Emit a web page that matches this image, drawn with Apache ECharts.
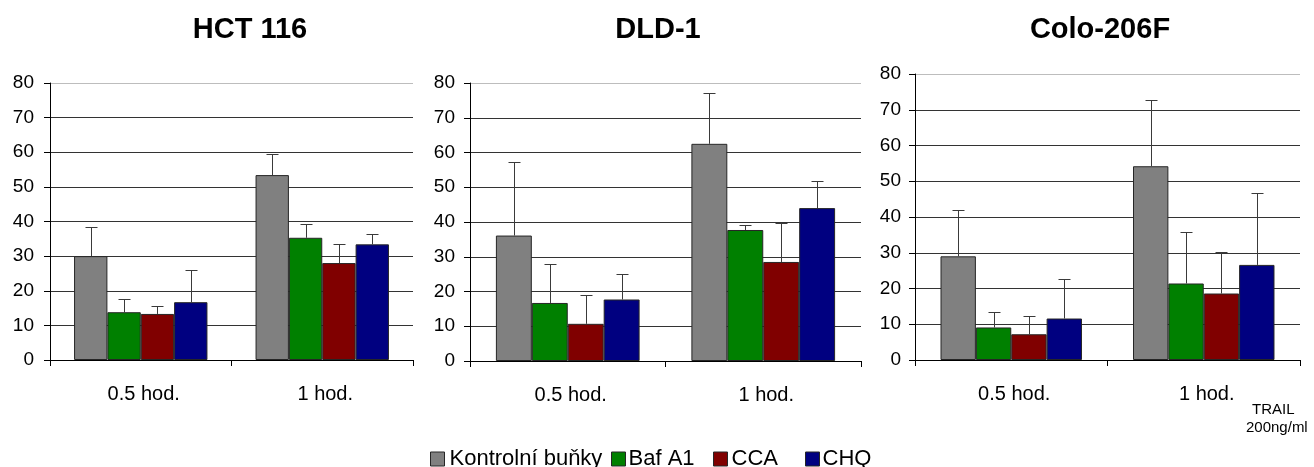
<!DOCTYPE html>
<html>
<head>
<meta charset="utf-8">
<script src="https://cdn.jsdelivr.net/npm/echarts@6/dist/echarts.min.js"></script>
<style>
  html, body { margin: 0; padding: 0; background: #fff; }
  #chart { width: 1314px; height: 467px; }
</style>
</head>
<body>
<div id="chart"></div>
<script>
// Time points and treatment groups
const categories = ['0.5 hod.', '1 hod.'];
const cellLines = ['HCT 116', 'DLD-1', 'Colo-206F'];
const groupNames = ['Kontrolní buňky', 'Baf A1', 'CCA', 'CHQ'];
const yTicks = [0, 10, 20, 30, 40, 50, 60, 70, 80];

// HCT 116: means and upper error (SD)
const hctKontrol = [30.0, 53.4];
const hctKontrolErr = [8.3, 6.0];
const hctBaf = [13.8, 35.3];
const hctBafErr = [3.9, 4.0];
const hctCca = [13.3, 28.0];
const hctCcaErr = [2.4, 5.4];
const hctChq = [16.7, 33.4];
const hctChqErr = [9.4, 2.9];

// DLD-1
const dldKontrol = [36.1, 62.5];
const dldKontrolErr = [21.1, 14.7];
const dldBaf = [16.7, 37.7];
const dldBafErr = [11.3, 1.5];
const dldCca = [10.7, 28.5];
const dldCcaErr = [8.4, 11.1];
const dldChq = [17.7, 44.0];
const dldChqErr = [7.3, 7.8];

// Colo-206F
const coloKontrol = [29.0, 54.2];
const coloKontrolErr = [12.9, 18.6];
const coloBaf = [9.1, 21.4];
const coloBafErr = [4.2, 14.3];
const coloCca = [7.2, 18.6];
const coloCcaErr = [5.2, 11.5];
const coloChq = [11.6, 26.6];
const coloChqErr = [11.0, 20.1];

const panelData = [
  { means: [hctKontrol, hctBaf, hctCca, hctChq], errs: [hctKontrolErr, hctBafErr, hctCcaErr, hctChqErr] },
  { means: [dldKontrol, dldBaf, dldCca, dldChq], errs: [dldKontrolErr, dldBafErr, dldCcaErr, dldChqErr] },
  { means: [coloKontrol, coloBaf, coloCca, coloChq], errs: [coloKontrolErr, coloBafErr, coloCcaErr, coloChqErr] }
];

const colors = ['#808080', '#008000', '#800000', '#000080'];
const FONT = '"Liberation Sans", Arial, sans-serif';
const GAP = 0.265;

const grids = [
  { left: 50, width: 363, top: 83, height: 277 },
  { left: 470, width: 391, top: 83, height: 278 },
  { left: 915, width: 385, top: 74, height: 286 }
];
const titleCenters = [250, 658, 1100];
const yLabelMargins = [16, 15, 14];

const xAxes = [], yAxes = [], series = [], titles = [];

grids.forEach((g, p) => {
  titles.push({
    text: cellLines[p],
    left: titleCenters[p],
    top: 15,
    padding: 0,
    textAlign: 'center',
    textStyle: { fontFamily: FONT, fontSize: 29, fontWeight: 'bold', color: '#000' }
  });
  xAxes.push({
    type: 'category',
    gridIndex: p,
    data: categories,
    boundaryGap: true,
    axisLine: { lineStyle: { color: '#000', width: 1 } },
    axisTick: { show: true, length: 6, lineStyle: { color: '#000' } },
    axisLabel: { color: '#000', fontFamily: FONT, fontSize: 20, margin: 24, padding: [0, 0, 0, 6] },
    splitLine: { show: false }
  });
  yAxes.push({
    type: 'value',
    gridIndex: p,
    min: yTicks[0],
    max: yTicks[yTicks.length - 1],
    interval: 10,
    axisLine: { show: true, lineStyle: { color: '#000', width: 1 } },
    axisTick: { show: true, length: 6, lineStyle: { color: '#000' } },
    axisLabel: { color: '#000', fontFamily: FONT, fontSize: 19, margin: yLabelMargins[p] },
    splitLine: {
      show: true,
      lineStyle: { color: ['#333', '#333', '#333', '#333', '#333', '#333', '#333', '#333', '#bdbdbd'], width: 1 }
    }
  });

  groupNames.forEach((name, s) => {
    series.push({
      name: name,
      type: 'bar',
      xAxisIndex: p,
      yAxisIndex: p,
      data: panelData[p].means[s],
      barGap: '0%',
      barCategoryGap: (GAP * 100) + '%',
      itemStyle: { color: colors[s], borderColor: '#262626', borderWidth: 1 },
      emphasis: { disabled: true },
      z: 2
    });
  });

  // upper error whiskers drawn on top of each bar
  groupNames.forEach((name, s) => {
    const means = panelData[p].means[s];
    const errs = panelData[p].errs[s];
    series.push({
      name: name + ' SD',
      type: 'custom',
      xAxisIndex: p,
      yAxisIndex: p,
      data: means.map((m, i) => [i, m, errs[i]]),
      encode: { x: 0, y: 1 },
      z: 3,
      silent: true,
      renderItem: function (params, api) {
        const cat = api.value(0);
        const v = api.value(1);
        const e = api.value(2);
        const base = api.coord([cat, v]);
        const top = api.coord([cat, v + e]);
        const catW = api.size([1, 0])[0];
        const bw = catW * (1 - GAP) / 4;
        const x = Math.round(base[0] + (s - 1.5) * bw) + 0.5;
        const yt = Math.round(top[1]) + 0.5;
        const stroke = { stroke: '#3a3a3a', lineWidth: 1 };
        return {
          type: 'group',
          children: [
            { type: 'line', shape: { x1: x, y1: base[1], x2: x, y2: yt }, style: stroke },
            { type: 'line', shape: { x1: x - 6, y1: yt, x2: x + 6, y2: yt }, style: stroke }
          ]
        };
      }
    });
  });
});

// one legend entry per block so each swatch sits at its own spot along the bottom
const legendLefts = [430, 611, 713, 805];
const legendTextPad = [0, -2, -1, -2];
const legends = groupNames.map((name, i) => ({
  data: [name],
  left: legendLefts[i],
  top: 448,
  padding: 0,
  itemWidth: 14,
  itemHeight: 14,
  icon: 'rect',
  selectedMode: false,
  itemStyle: { borderColor: '#262626', borderWidth: 1 },
  textStyle: { fontFamily: FONT, fontSize: 22, color: '#000', padding: [0, 0, 0, legendTextPad[i]] }
}));

const chart = echarts.init(document.getElementById('chart'), null, { renderer: 'canvas' });
chart.setOption({
  animation: false,
  backgroundColor: '#fff',
  textStyle: { fontFamily: FONT },
  title: titles,
  grid: grids,
  xAxis: xAxes,
  yAxis: yAxes,
  legend: legends,
  graphic: [
    { type: 'text', left: 1252, top: 402, style: { text: 'TRAIL', font: '15px ' + FONT, fill: '#000' } },
    { type: 'text', left: 1246, top: 420, style: { text: '200ng/ml', font: '15px ' + FONT, fill: '#000' } }
  ],
  series: series
});
</script>
</body>
</html>
